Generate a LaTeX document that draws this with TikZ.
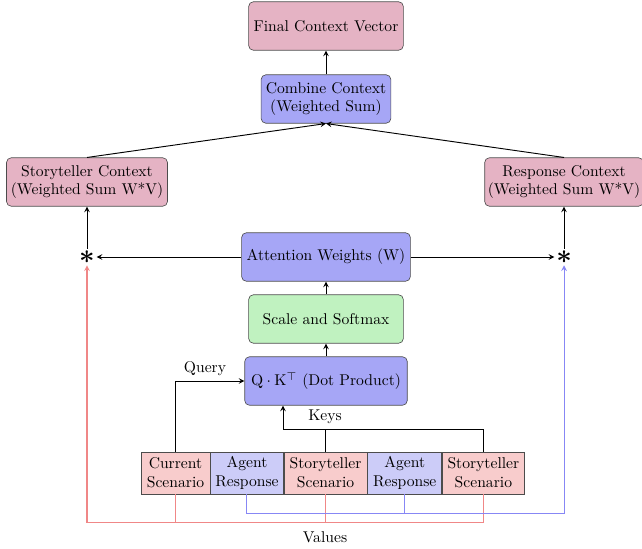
\documentclass[tikz,border=0pt]{standalone}
\usepackage{amsmath}
\usetikzlibrary{positioning}
\definecolor{ctxpink}{RGB}{229,179,196}
\definecolor{attblue}{RGB}{166,166,246}
\definecolor{smgreen}{RGB}{192,242,192}
\definecolor{keyred}{RGB}{248,204,204}
\definecolor{keyblue}{RGB}{204,204,248}
\definecolor{valred}{RGB}{240,135,135}
\definecolor{valblue}{RGB}{135,135,245}
\begin{document}
\begin{tikzpicture}[x=0.64pt, y=-0.64pt,
    box/.style={draw=black!70, rounded corners=3pt, align=center, minimum height=31pt, inner sep=2pt},
    inbox/.style={draw=black!70, align=center, minimum height=27pt, inner sep=1.5pt},
    arr/.style={semithick, ->, >=stealth},
    valline/.style={line width=0.65pt}]
    \useasboundingbox (0,0) rectangle (642,548);
    % upper boxes
    \node[box, fill=ctxpink, minimum width=99pt] (final) at (326,26) {Final Context Vector};
    \node[box, fill=attblue, minimum width=83pt] (comb) at (326,99) {Combine Context\\(Weighted Sum)};
    \node[box, fill=ctxpink, minimum width=103pt] (stctx) at (87,182) {Storyteller Context\\(Weighted Sum W*V)};
    \node[box, fill=ctxpink, minimum width=100pt] (rsctx) at (564,182) {Response Context\\(Weighted Sum W*V)};
    \node[box, fill=attblue, minimum width=108pt] (attw) at (326,257) {Attention Weights (W)};
    \node[box, fill=smgreen, minimum width=99pt] (soft) at (326,319) {Scale and Softmax};
    \node[box, fill=attblue, minimum width=104pt] (qk) at (326,381) {$\mathrm{Q}\cdot\mathrm{K}^{\top}$ (Dot Product)};
    % multiplication points
    \node[inner sep=1pt] (lstar) at (87,257) {\LARGE$\boldsymbol{\ast}$};
    \node[inner sep=1pt] (rstar) at (564,257) {\LARGE$\boldsymbol{\ast}$};
    % input boxes
    \node[inbox, fill=keyred, minimum width=44pt] (cur) at (175.5,473) {Current\\Scenario};
    \node[inbox, fill=keyblue, minimum width=46.7pt, right=0pt of cur] (ar1) {Agent\\Response};
    \node[inbox, fill=keyred, minimum width=53.1pt, right=0pt of ar1] (ss1) {Storyteller\\Scenario};
    \node[inbox, fill=keyblue, minimum width=47.4pt, right=0pt of ss1] (ar2) {Agent\\Response};
    \node[inbox, fill=keyred, minimum width=52.5pt, right=0pt of ar2] (ss2) {Storyteller\\Scenario};
    % main flow
    \draw[arr] (comb) -- (final);
    \draw[arr] (stctx.north) -- (comb.south);
    \draw[arr] (rsctx.north) -- (comb.south);
    \draw[arr] (lstar) -- (stctx);
    \draw[arr] (rstar) -- (rsctx);
    \draw[arr] (attw) -- (lstar);
    \draw[arr] (attw) -- (rstar);
    \draw[arr] (soft) -- (attw);
    \draw[arr] (qk) -- (soft);
    % query and keys
    \draw[arr] (cur.north) |- (qk.west);
    \node[above] (qlbl) at (205,381) {Query};
    \coordinate (keyin) at (283,429);
    \draw[arr] (ss2.north) |- (keyin) -- (keyin |- qk.south);
    \draw[semithick] (ss1.north) -- (ss1.north |- keyin);
    \node[above] (klbl) at (325,429) {Keys};
    % values
    \coordinate (vred) at (0,522);
    \coordinate (vblue) at (0,513);
    \draw[valline, valred, ->, >=stealth] (ss2.south) |- (cur.south |- vred) -| (lstar.south);
    \draw[valline, valred] (cur.south) -- (cur.south |- vred);
    \draw[valline, valred] (ss1.south) -- (ss1.south |- vred);
    \draw[valline, valblue, ->, >=stealth] (ar1.south) |- (ar2.south |- vblue) -| (rstar.south);
    \draw[valline, valblue] (ar2.south) -- (ar2.south |- vblue);
    \node (vlbl) at (325,537) {Values};
\end{tikzpicture}
\end{document}
